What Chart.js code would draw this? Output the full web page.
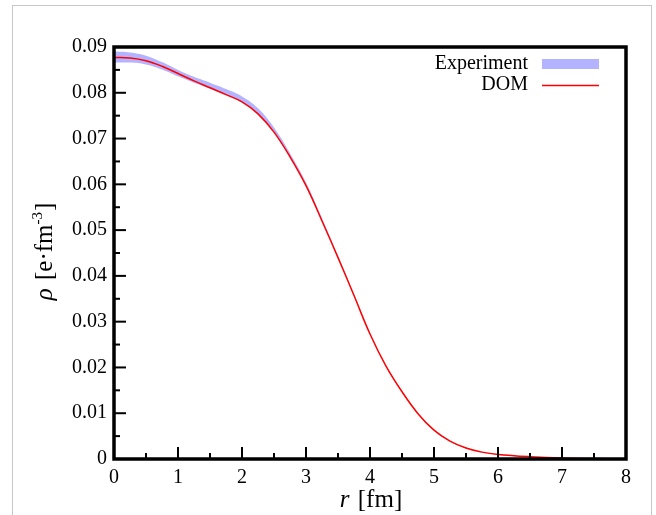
<!DOCTYPE html>
<html>
<head>
<meta charset="utf-8">
<script src="https://cdn.jsdelivr.net/npm/chart.js@4/dist/chart.umd.min.js"></script>
<style>
  html, body { margin: 0; padding: 0; background: #fff; }
  #wrap { position: relative; width: 656px; height: 515px; overflow: hidden; }
  #frame { position: absolute; left: 12px; top: 5px; width: 638px; height: 560px; border: 1px solid #c8c8c8; }
  canvas { position: absolute; left: 0; top: 0; }
</style>
</head>
<body>
<div id="wrap">
  <div id="frame"></div>
  <canvas id="Chart" width="656" height="515"></canvas>
</div>
<script>
// radius in fm
const radius = [0, 0.25, 0.5, 0.75, 1, 1.25, 1.5, 1.75, 2, 2.25, 2.5, 2.75, 3, 3.25, 3.5,
  3.75, 4, 4.25, 4.5, 4.75, 5, 5.25, 5.5, 5.75, 6, 6.5, 7, 7.5, 8];

// DOM charge density
const domRho = [0.0877, 0.0876, 0.0870, 0.0858, 0.0842, 0.0826, 0.0811, 0.0796, 0.0780, 0.0754,
  0.0714, 0.0660, 0.0597, 0.0520, 0.0440, 0.0357, 0.0273, 0.0203, 0.0147, 0.0099,
  0.0063, 0.0039, 0.0024, 0.0015, 0.0010, 0.0005, 0.0002, 0.0001, 0.0000];

// experiment band
const expUpper = [0.0890, 0.0888, 0.0881, 0.0867, 0.0850, 0.0835, 0.0822, 0.0808, 0.0792, 0.0766,
  0.0724, 0.0668, 0.0604, 0.0526, 0.0444, 0.0360, 0.0276, 0.0205, 0.0148, 0.0100,
  0.0064, 0.0040, 0.0025, 0.0015, 0.0010, 0.0005, 0.0002, 0.0001, 0.0000];
const expLower = [0.0866, 0.0866, 0.0862, 0.0851, 0.0836, 0.0822, 0.0809, 0.0795, 0.0779, 0.0754,
  0.0714, 0.0659, 0.0597, 0.0520, 0.0440, 0.0357, 0.0273, 0.0202, 0.0146, 0.0098,
  0.0062, 0.0038, 0.0023, 0.0014, 0.0009, 0.0004, 0.0001, 0.0000, 0.0000];

const xTicks = { min: 0, max: 8, step: 1 };
const yTicks = { min: 0, max: 0.09, step: 0.01 };

const FONT = "'Liberation Serif', 'DejaVu Serif', serif";
const BAND = '#b3b3ff';
const RED = '#ff0000';

const pts = arr => arr.map((v, i) => ({ x: radius[i], y: v }));

// frame, inward ticks, legend and axis titles
const decor = {
  id: 'decor',
  afterDraw(chart) {
    const ctx = chart.ctx;
    const a = chart.chartArea;
    const xs = chart.scales.x, ys = chart.scales.y;
    ctx.save();
    ctx.strokeStyle = '#000';
    ctx.lineWidth = 2;
    for (let v = xTicks.min; v <= xTicks.max + 1e-9; v += xTicks.step / 2) {
      const px = xs.getPixelForValue(v);
      const major = Math.abs(v - Math.round(v)) < 1e-9;
      ctx.beginPath();
      ctx.moveTo(px, a.bottom);
      ctx.lineTo(px, a.bottom - (major ? 12 : 6));
      ctx.stroke();
    }
    for (let v = yTicks.min; v <= yTicks.max + 1e-9; v += yTicks.step / 2) {
      const py = ys.getPixelForValue(v);
      const major = Math.abs(v / yTicks.step - Math.round(v / yTicks.step)) < 1e-6;
      ctx.beginPath();
      ctx.moveTo(a.left, py);
      ctx.lineTo(a.left + (major ? 12 : 6), py);
      ctx.stroke();
    }
    ctx.lineWidth = 3.5;
    ctx.strokeRect(a.left, a.top, a.right - a.left, a.bottom - a.top);

    // legend
    const ds = chart.data.datasets;
    ctx.font = '20px ' + FONT;
    ctx.fillStyle = '#000';
    ctx.textAlign = 'right';
    ctx.textBaseline = 'middle';
    ctx.fillText(ds[1].label, 528, 64);
    ctx.fillText(ds[0].label, 528, 85);
    ctx.fillStyle = BAND;
    ctx.fillRect(542, 59, 57, 10);
    ctx.strokeStyle = RED;
    ctx.lineWidth = 1.5;
    ctx.beginPath();
    ctx.moveTo(542, 85.5);
    ctx.lineTo(599, 85.5);
    ctx.stroke();

    // x title
    ctx.fillStyle = '#000';
    ctx.textBaseline = 'alphabetic';
    ctx.textAlign = 'left';
    const it = 'italic 25px ' + FONT, rm = '25px ' + FONT;
    ctx.font = it; const w1 = ctx.measureText('r ').width;
    ctx.font = rm; const w2 = ctx.measureText('[fm]').width;
    let x0 = (a.left + a.right) / 2 - (w1 + w2) / 2;
    ctx.font = it; ctx.fillText('r ', x0, 507);
    ctx.font = rm; ctx.fillText('[fm]', x0 + w1 + 2, 507);

    // y title
    ctx.translate(52, (a.top + a.bottom) / 2);
    ctx.rotate(-Math.PI / 2);
    const sm = '15px ' + FONT;
    ctx.font = it; const s1 = ctx.measureText('ρ ').width;
    ctx.font = rm; const s2 = ctx.measureText('[e·fm').width;
    ctx.font = sm; const s3 = ctx.measureText('-3').width;
    ctx.font = rm; const s4 = ctx.measureText(']').width;
    let y0 = -(s1 + s2 + s3 + s4) / 2;
    ctx.font = it; ctx.fillText('ρ ', y0, 0);
    ctx.font = rm; ctx.fillText('[e·fm', y0 + s1 + 2, 0);
    ctx.font = sm; ctx.fillText('-3', y0 + s1 + s2 + 2, -10);
    ctx.font = rm; ctx.fillText(']', y0 + s1 + s2 + s3 + 3, 0);
    ctx.restore();
  }
};

new Chart(document.getElementById('Chart'), {
  type: 'line',
  data: {
    datasets: [
      { label: 'DOM', data: pts(domRho), borderColor: RED, borderWidth: 1.5,
        pointRadius: 0, fill: false, tension: 0.4 },
      { label: 'Experiment', data: pts(expUpper), borderWidth: 0, borderColor: BAND,
        pointRadius: 0, fill: false, tension: 0.4 },
      { label: 'Experiment low', data: pts(expLower), borderWidth: 0, borderColor: BAND,
        backgroundColor: BAND, pointRadius: 0, fill: '-1', tension: 0.4 }
    ]
  },
  options: {
    responsive: false,
    animation: false,
    events: [],
    layout: { padding: { top: 47, right: 30, left: 0, bottom: 0 } },
    plugins: { legend: { display: false }, tooltip: { enabled: false } },
    scales: {
      x: {
        type: 'linear', min: xTicks.min, max: xTicks.max,
        grid: { display: false, drawTicks: false },
        border: { display: false },
        ticks: { stepSize: xTicks.step, padding: 7, color: '#000', font: { family: FONT, size: 20 } },
        afterFit: s => { s.height = 56; }
      },
      y: {
        min: yTicks.min, max: yTicks.max,
        grid: { display: false, drawTicks: false },
        border: { display: false },
        ticks: {
          stepSize: yTicks.step, padding: 7, color: '#000', font: { family: FONT, size: 20 },
          callback: v => (v === 0 ? '0' : v.toFixed(2))
        },
        afterFit: s => { s.width = 114; }
      }
    }
  },
  plugins: [decor]
});
</script>
</body>
</html>
